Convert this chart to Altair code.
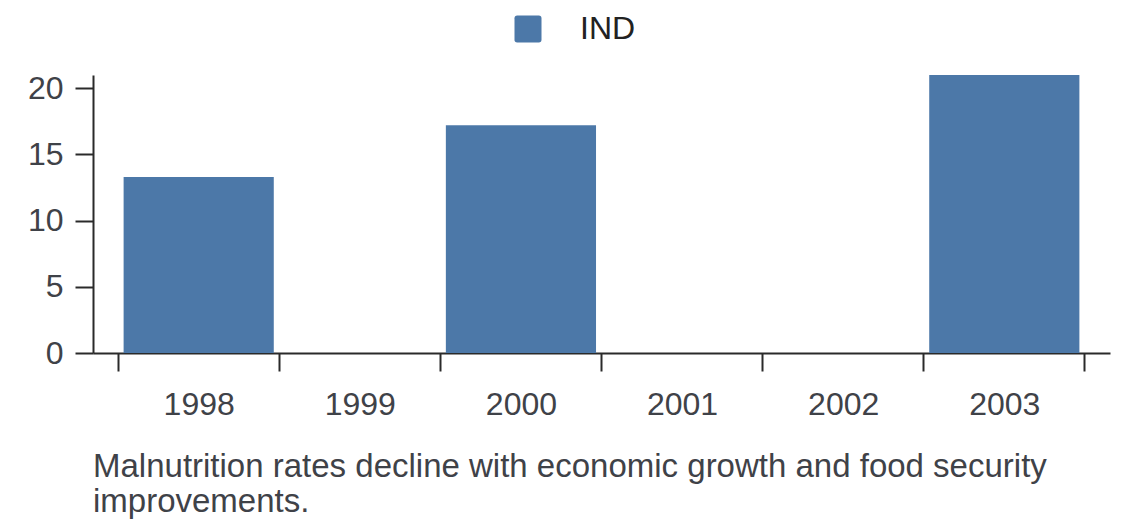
import altair as alt
import pandas as pd

years = ["1998", "1999", "2000", "2001", "2002", "2003"]
bar_years = ["1998", "2000", "2003"]
values = [13.3, 17.2, 21.0]
series = ["IND", "IND", "IND"]
caption = ["Malnutrition rates decline with economic growth and food security",
           "improvements."]

df = pd.DataFrame({"year": bar_years, "value": values, "country": series})

FONT = "Liberation Sans"
TEXT = "#3f4248"
AXIS = "#2a2a2a"
ROUNDED_SQUARE = ("M-0.8,-1L0.8,-1Q1,-1 1,-0.8L1,0.8Q1,1 0.8,1L-0.8,1"
                  "Q-1,1 -1,0.8L-1,-0.8Q-1,-1 -0.8,-1Z")

chart = alt.Chart(df).mark_bar().encode(
    x=alt.X("year:N", sort=years,
            scale=alt.Scale(domain=years, paddingInner=0.068, paddingOuter=0.19),
            axis=alt.Axis(title=None, labelAngle=0, bandPosition=1.07, tickExtra=True,
                          tickOffset=-5.4, labelOffset=5.4,
                          labelFontSize=32, labelColor=TEXT, labelFont=FONT,
                          labelPadding=18, tickSize=18, tickWidth=2, tickColor=AXIS,
                          domainWidth=2, domainColor=AXIS, grid=False)),
    y=alt.Y("value:Q",
            scale=alt.Scale(domain=[0, 21], nice=False),
            axis=alt.Axis(title=None, values=[0, 5, 10, 15, 20],
                          labelFontSize=32, labelColor=TEXT, labelFont=FONT,
                          labelPadding=12, tickSize=18, tickWidth=2, tickColor=AXIS,
                          domainWidth=2, domainColor=AXIS, grid=False)),
    color=alt.Color("country:N",
                    scale=alt.Scale(range=["#4c78a8"]),
                    legend=alt.Legend(title=None, orient="none", legendX=419, legendY=-62,
                                      direction="horizontal", symbolType=ROUNDED_SQUARE,
                                      symbolSize=729, symbolStrokeWidth=0,
                                      labelFontSize=32, labelFont=FONT, labelColor="#222222",
                                      labelOffset=36, padding=0)),
).properties(
    width=1017,
    height=278,
    padding={"left": 85, "top": 67, "right": 22, "bottom": 175},
    autosize=alt.AutoSizeParams(type="none"),
    title=alt.TitleParams(text=caption, orient="bottom", anchor="start", frame="group",
                          fontSize=33, font=FONT, color=TEXT, fontWeight="normal",
                          lineHeight=35, offset=31),
).configure_view(stroke=None)

chart.save("out.html", embed_options={"renderer": "svg", "actions": False})
